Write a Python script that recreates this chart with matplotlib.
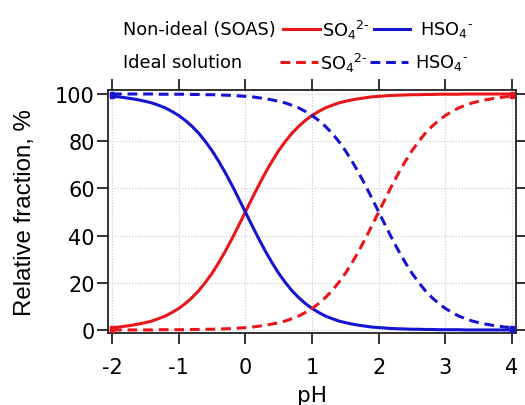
import matplotlib
matplotlib.use("Agg")
import matplotlib.pyplot as plt
from matplotlib.lines import Line2D

plt.rcParams['font.family'] = ['DejaVu Sans']
plt.rcParams['axes.unicode_minus'] = False

ph = [round(-2 + 0.1 * i, 1) for i in range(61)]
so4_nonideal = [1.0, 1.2, 1.6, 2.0, 2.5, 3.1, 3.8, 4.8, 5.9, 7.4,
                9.1, 11.2, 13.7, 16.6, 20.1, 24.0, 28.5, 33.4, 38.7, 44.3,
                50.0, 55.7, 61.3, 66.6, 71.5, 76.0, 79.9, 83.4, 86.3, 88.8,
                90.9, 92.6, 94.1, 95.2, 96.2, 96.9, 97.5, 98.0, 98.4, 98.8,
                99.0, 99.2, 99.4, 99.5, 99.6, 99.7, 99.7, 99.8, 99.8, 99.9,
                99.9, 99.9, 99.9, 100.0, 100.0, 100.0, 100.0, 100.0, 100.0, 100.0,
                100.0]
hso4_nonideal = [99.0, 98.8, 98.4, 98.0, 97.5, 96.9, 96.2, 95.2, 94.1, 92.6,
                 90.9, 88.8, 86.3, 83.4, 79.9, 76.0, 71.5, 66.6, 61.3, 55.7,
                 50.0, 44.3, 38.7, 33.4, 28.5, 24.0, 20.1, 16.6, 13.7, 11.2,
                 9.1, 7.4, 5.9, 4.8, 3.8, 3.1, 2.5, 2.0, 1.6, 1.2,
                 1.0, 0.8, 0.6, 0.5, 0.4, 0.3, 0.3, 0.2, 0.2, 0.1,
                 0.1, 0.1, 0.1, 0.0, 0.0, 0.0, 0.0, 0.0, 0.0, 0.0,
                 0.0]
so4_ideal = [0.0, 0.0, 0.0, 0.0, 0.0, 0.0, 0.0, 0.1, 0.1, 0.1,
             0.1, 0.1, 0.2, 0.2, 0.3, 0.3, 0.4, 0.5, 0.6, 0.8,
             1.0, 1.2, 1.6, 2.0, 2.5, 3.1, 3.8, 4.8, 5.9, 7.4,
             9.1, 11.2, 13.7, 16.6, 20.1, 24.0, 28.5, 33.4, 38.7, 44.3,
             50.0, 55.7, 61.3, 66.6, 71.5, 76.0, 79.9, 83.4, 86.3, 88.8,
             90.9, 92.6, 94.1, 95.2, 96.2, 96.9, 97.5, 98.0, 98.4, 98.8,
             99.0]
hso4_ideal = [100.0, 100.0, 100.0, 100.0, 100.0, 100.0, 100.0, 99.9, 99.9, 99.9,
              99.9, 99.9, 99.8, 99.8, 99.7, 99.7, 99.6, 99.5, 99.4, 99.2,
              99.0, 98.8, 98.4, 98.0, 97.5, 96.9, 96.2, 95.2, 94.1, 92.6,
              90.9, 88.8, 86.3, 83.4, 79.9, 76.0, 71.5, 66.6, 61.3, 55.7,
              50.0, 44.3, 38.7, 33.4, 28.5, 24.0, 20.1, 16.6, 13.7, 11.2,
              9.1, 7.4, 5.9, 4.8, 3.8, 3.1, 2.5, 2.0, 1.6, 1.2,
              1.0]

xticks = [-2, -1, 0, 1, 2, 3, 4]
yticks = [0, 20, 40, 60, 80, 100]

RED = '#e8161b'
BLUE = '#1414d2'

fig = plt.figure(figsize=(5.25, 4.06), dpi=100)
ax = fig.add_axes([0.2057, 0.1773, 0.7773, 0.5986])

dash = (3.2, 1.9)
lw = 2.2
mk = dict(marker='s', markersize=3.5, markevery=[0, -1])
ax.plot(ph, so4_nonideal, color=RED, lw=lw, zorder=3, **mk)
ax.plot(ph, hso4_nonideal, color=BLUE, lw=lw, zorder=3, **mk)
ax.plot(ph, so4_ideal, color=RED, lw=lw, ls=(0, dash), zorder=3, **mk)
ax.plot(ph, hso4_ideal, color=BLUE, lw=lw, ls=(0, dash), zorder=3, **mk)

ax.set_xlim(-2.06, 4.06)
ax.set_ylim(-1.3, 101.7)
ax.set_xticks(xticks)
ax.set_yticks(yticks)
ax.grid(True, color='#c8c8c8', ls=':', lw=0.8)
for s in ax.spines.values():
    s.set_linewidth(1.3)
    s.set_color('#222222')
ax.tick_params(direction='out', length=8, width=1.3, labelsize=15,
               top=True, right=True, labeltop=False, labelright=False, color='#222222')
ax.tick_params(axis='x', pad=9)
ax.tick_params(axis='y', pad=1.5)
ax.set_xlabel('pH', fontsize=15.5, labelpad=6)
ax.set_ylabel('Relative fraction, %', fontsize=17.3, labelpad=14,
              family=['Liberation Sans', 'DejaVu Sans'])

# legend drawn manually at top
fs = 12.8
y1 = 1 - 30 / 406
y2 = 1 - 63 / 406
def fx(px):
    return px / 525
fig.text(fx(123), y1, 'Non-ideal (SOAS)', fontsize=fs, va='center', ha='left')
fig.text(fx(123), y2, 'Ideal solution', fontsize=fs, va='center', ha='left')
fig.add_artist(Line2D([fx(283), fx(320)], [y1, y1], color=RED, lw=2.2, transform=fig.transFigure))
fig.add_artist(Line2D([fx(374), fx(410)], [y1, y1], color=BLUE, lw=2.2, transform=fig.transFigure))
fig.add_artist(Line2D([fx(280), fx(318)], [y2, y2], color=RED, lw=2.2, ls=(0, dash), transform=fig.transFigure))
fig.add_artist(Line2D([fx(370), fx(408)], [y2, y2], color=BLUE, lw=2.2, ls=(0, dash), transform=fig.transFigure))
fig.text(fx(322), y1, r'SO$_4$$^{2\text{-}}$', fontsize=fs, va='center', ha='left')
fig.text(fx(420), y1, r'HSO$_4$$^{\text{-}}$', fontsize=fs, va='center', ha='left')
fig.text(fx(320), y2, r'SO$_4$$^{2\text{-}}$', fontsize=fs, va='center', ha='left')
fig.text(fx(415), y2, r'HSO$_4$$^{\text{-}}$', fontsize=fs, va='center', ha='left')

fig.savefig('out.png', dpi=100)
